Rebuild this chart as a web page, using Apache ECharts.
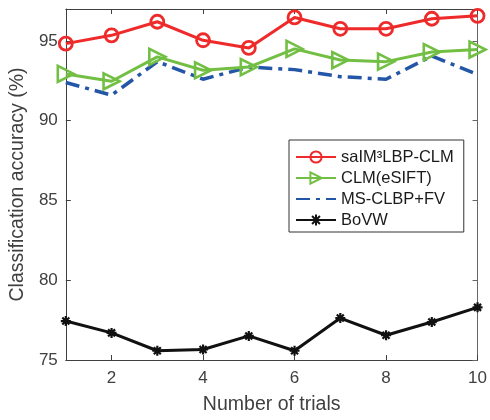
<!DOCTYPE html>
<html>
<head>
<meta charset="utf-8">
<script src="https://cdn.jsdelivr.net/npm/echarts@6/dist/echarts.min.js"></script>
<style>html,body{margin:0;padding:0;background:#fff}#c{width:490px;height:420px}</style>
</head>
<body>
<div id="c"></div>
<script>
const trials = [1,2,3,4,5,6,7,8,9,10];
const saIM3 = [94.83,95.35,96.2,95.04,94.56,96.47,95.76,95.76,96.39,96.57];
const clmESIFT = [92.93,92.47,94.0,93.16,93.36,94.5,93.8,93.7,94.3,94.46];
const msClbp = [92.39,91.6,93.7,92.6,93.36,93.2,92.76,92.6,94.05,92.9];
const bovw = [77.44,76.7,75.58,75.66,76.51,75.58,77.63,76.55,77.38,78.3];
const xTicks = [2,4,6,8,10];
const yTicks = [75,80,85,90,95];
const names = ['saIM³LBP-CLM','CLM(eSIFT)','MS-CLBP+FV','BoVW'];

const pair = arr => arr.map((v,i)=>[trials[i], v]);
const font = '"Liberation Sans", Arial, Helvetica, sans-serif';
const axisCol = '#404040';
const chart = echarts.init(document.getElementById('c'), null, {renderer:'canvas'});
const asterisk = 'path://M5,0L5,10M0,5L10,5M1.5,1.5L8.5,8.5M1.5,8.5L8.5,1.5';

chart.setOption({
  animation: false,
  textStyle: {fontFamily: font},
  grid: {left: 64, right: 9, top: 9, bottom: 57},
  legend: {
    left: 289, top: 140, orient: 'vertical',
    itemWidth: 40, itemHeight: 14, itemGap: 1,
    padding: [7, 10, 2, 6],
    borderColor: '#333', borderWidth: 1, backgroundColor: '#fff',
    textStyle: {fontSize: 16.5, color: '#1a1a1a', fontFamily: font, lineHeight: 20},
    data: [
      {name: names[0]},
      {name: names[1]},
      {name: names[2], itemStyle: {opacity: 0}},
      {name: names[3]}
    ]
  },
  xAxis: [{
    type: 'value', min: 1, max: 10,
    name: 'Number of trials', nameLocation: 'middle', nameGap: 35,
    nameTextStyle: {fontSize: 19.5, color: axisCol, fontFamily: font},
    axisLine: {lineStyle: {color: axisCol, width: 1}},
    axisTick: {inside: true, length: 5, customValues: xTicks, lineStyle: {color: axisCol}},
    axisLabel: {customValues: xTicks, fontSize: 17, color: axisCol, margin: 10, fontFamily: font},
    splitLine: {show: false}
  },{
    type: 'value', min: 1, max: 10, position: 'top',
    axisLine: {onZero: false, lineStyle: {color: axisCol, width: 1}},
    axisTick: {inside: true, length: 5, customValues: xTicks, lineStyle: {color: axisCol}},
    axisLabel: {show: false}, splitLine: {show: false}
  }],
  yAxis: [{
    type: 'value', min: 75, max: 97,
    name: 'Classification accuracy (%)', nameLocation: 'middle', nameGap: 36,
    nameTextStyle: {fontSize: 19.5, color: axisCol, fontFamily: font},
    axisLine: {show: true, lineStyle: {color: axisCol, width: 1}},
    axisTick: {show: true, inside: true, length: 5, customValues: yTicks, lineStyle: {color: axisCol}},
    axisLabel: {customValues: yTicks, fontSize: 17, color: axisCol, margin: 8, fontFamily: font},
    splitLine: {show: false}
  },{
    type: 'value', min: 75, max: 97, position: 'right',
    axisLine: {show: true, onZero: false, lineStyle: {color: '#666', width: 1}},
    axisTick: {show: true, inside: true, length: 5, customValues: yTicks, lineStyle: {color: '#666'}},
    axisLabel: {show: false}, splitLine: {show: false}
  }],
  series: [
    {
      name: names[0], type: 'line', data: pair(saIM3), z: 5,
      symbol: 'circle', symbolSize: 13,
      lineStyle: {color: '#ee2a2a', width: 3},
      itemStyle: {color: 'rgba(255,255,255,0)', borderColor: '#ee2a2a', borderWidth: 2.8}
    },
    {
      name: names[1], type: 'line', data: pair(clmESIFT), z: 4,
      symbol: 'triangle', symbolRotate: -90, symbolSize: 16,
      lineStyle: {color: '#72bf44', width: 3},
      itemStyle: {color: 'rgba(255,255,255,0)', borderColor: '#72bf44', borderWidth: 2.6}
    },
    {
      name: names[2], type: 'line', data: pair(msClbp), z: 3,
      symbol: 'none', showSymbol: false,
      lineStyle: {color: '#2456a8', width: 3.5, type: [14, 6, 4, 6]},
      itemStyle: {color: '#2456a8'}
    },
    {
      name: names[3], type: 'line', data: pair(bovw), z: 2,
      symbol: asterisk, symbolSize: 10,
      lineStyle: {color: '#111', width: 3},
      itemStyle: {color: '#111', borderColor: '#111', borderWidth: 2.2}
    }
  ]
});
</script>
</body>
</html>
